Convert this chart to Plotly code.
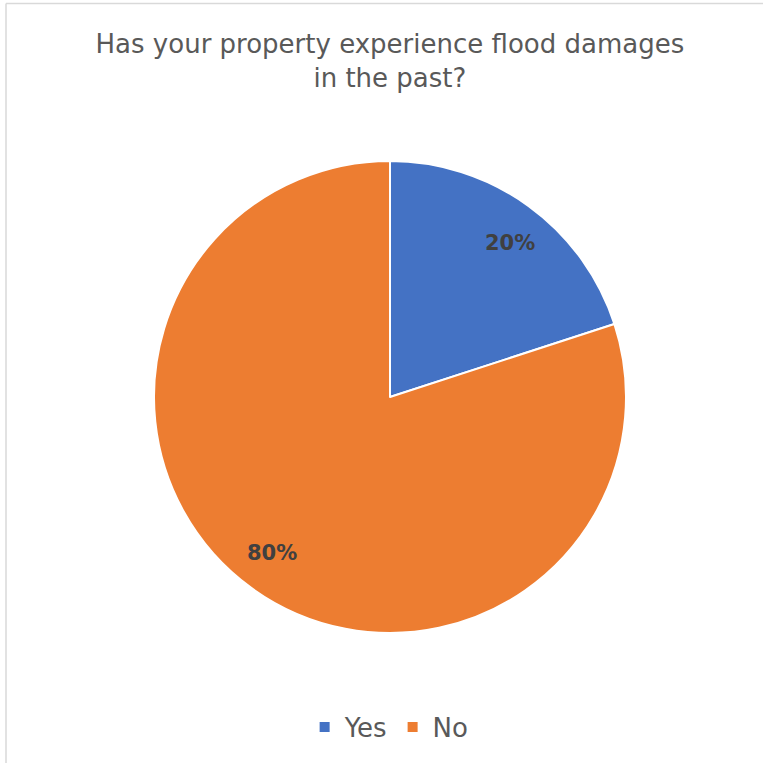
import math
import plotly.graph_objects as go

labels = ["Yes", "No"]
values = [20, 80]
colors = ["#4472C4", "#ED7D31"]
title_text = "Has your property experience flood damages<br>in the past?"

W = H = 763
CX, CY, R = 390, 397, 236  # pie center / radius in pixels
LABEL_R = 0.83

fig = go.Figure()
fig.add_trace(go.Pie(
    labels=labels,
    values=values,
    sort=False,
    direction="clockwise",
    rotation=0,
    marker=dict(colors=colors, line=dict(color="white", width=2)),
    textinfo="none",
    domain=dict(x=[(CX - R) / W, (CX + R) / W], y=[1 - (CY + R) / H, 1 - (CY - R) / H]),
    hoverinfo="label+percent",
))

# data labels placed near the middle angle of each slice
total = sum(values)
annotations = []
cum = 0
for v in values:
    mid = (cum + v / 2) / total * 2 * math.pi + math.radians(1.5)
    cum += v
    px = CX + LABEL_R * R * math.sin(mid) + 1
    py = CY - LABEL_R * R * math.cos(mid) + 1
    annotations.append(dict(
        x=px / W, y=1 - py / H, xref="paper", yref="paper",
        text="<b>%d%%</b>" % round(v / total * 100), showarrow=False,
        xanchor="center", yanchor="middle",
        font=dict(family="DejaVu Sans", size=21, color="#404040"),
    ))

fig.update_layout(
    width=W, height=H,
    margin=dict(l=0, r=0, t=0, b=0),
    paper_bgcolor="white",
    plot_bgcolor="white",
    title=dict(text=title_text, x=0.511, xanchor="center", y=1 - 53 / H, yanchor="middle",
               font=dict(family="DejaVu Sans", size=26, color="#595959")),
    showlegend=True,
    legend=dict(orientation="h", x=0.51, xanchor="center", y=1 - 727 / H, yanchor="middle",
                font=dict(family="DejaVu Sans", size=26, color="#595959"), itemwidth=30),
    annotations=annotations,
    shapes=[
        dict(type="line", xref="paper", yref="paper", x0=6 / W, x1=1, y0=1 - 3.5 / H, y1=1 - 3.5 / H,
             line=dict(color="#D9D9D9", width=1.5)),
        dict(type="line", xref="paper", yref="paper", x0=6 / W, x1=6 / W, y0=0, y1=1 - 3.5 / H,
             line=dict(color="#D9D9D9", width=1.5)),
    ],
)

fig.write_html("out.html", config={"displayModeBar": False},
               post_script="document.body.style.margin='0';document.body.style.overflow='hidden';")
